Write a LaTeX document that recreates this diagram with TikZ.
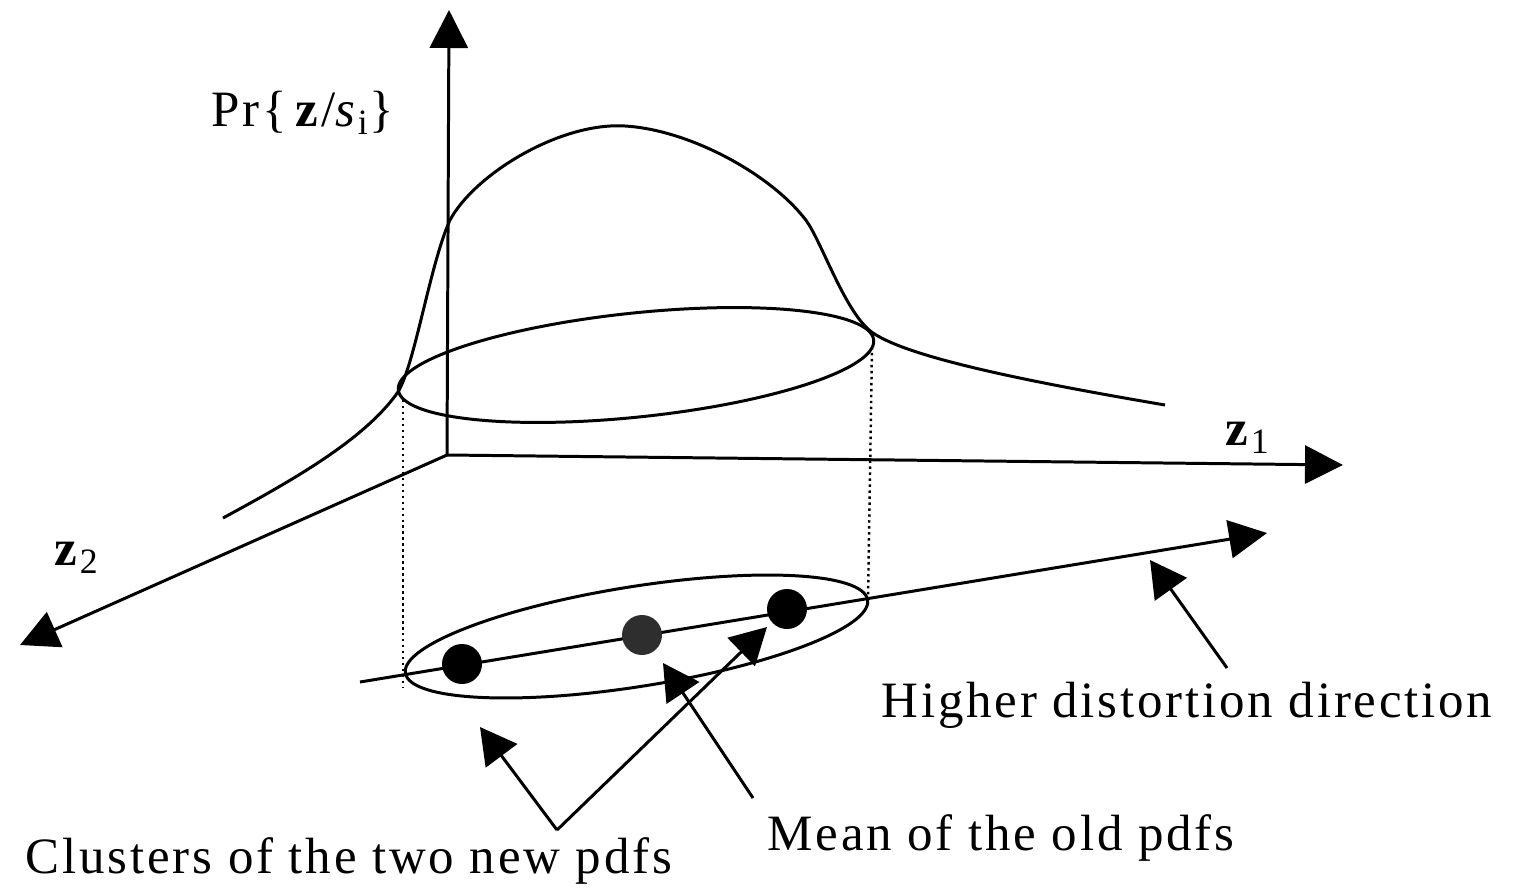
\documentclass[tikz,border=0pt]{standalone}
\usepackage{fontspec}
\setmainfont{Liberation Serif}[LetterSpace=5.5]
\usetikzlibrary{arrows.meta,calc}

\begin{document}
\begin{tikzpicture}[x=1cm,y=1cm,font=\fontsize{14.5}{17}\selectfont,
  axis/.style={-{Triangle[length=3.8mm,width=3.8mm]},line width=0.85pt},
  pointer/.style={-{Triangle[length=3.6mm,width=3.9mm]},line width=0.85pt},
  curve/.style={line width=0.85pt,line join=round},
  proj/.style={densely dotted,line width=0.7pt},
  blob/.style={circle,fill=black,minimum size=4mm,inner sep=0pt},
  label/.style={inner sep=0pt}]
\useasboundingbox (0,0) rectangle (15.13,8.94);

% Axes of the feature space.
\coordinate (orig) at (4.47,4.39);
\coordinate (ptop) at (4.49,8.84);
\coordinate (zone) at (13.43,4.29);
\coordinate (ztwo) at (0.20,2.49);
\draw[axis] (orig)--(ptop);
\draw[axis] (orig)--(zone);
\draw[axis] (orig)--(ztwo);
\node[label] (prlab) at (3.03,7.81) {Pr\{\,\textbf{z}/\textit{s}\textsubscript{i}\}};
\node[label] (zonelab) at (12.48,4.56) {\textbf{z}\textsubscript{1}};
\node[label] (ztwolab) at (0.77,3.36) {\textbf{z}\textsubscript{2}};

% Density surface of the old pdf and its level set.
\draw[curve] (2.23,3.76) .. controls (2.95,4.15) and (3.65,4.55) .. (3.98,5.02)
  .. controls (4.15,5.30) and (4.30,6.30) .. (4.50,6.74)
  .. controls (4.75,7.20) and (5.60,7.72) .. (6.25,7.68)
  .. controls (6.90,7.64) and (7.70,7.20) .. (8.05,6.75)
  .. controls (8.21,6.55) and (8.45,5.80) .. (8.73,5.61)
  .. controls (9.10,5.36) and (10.30,5.12) .. (11.65,4.89);
\draw[curve,rotate around={6:(6.36,5.29)}] (6.36,5.29) ellipse[x radius=2.39,y radius=0.52];

% Projection of the level set onto the plane.
\coordinate (dropla) at (4.03,4.94);
\coordinate (droplb) at (4.03,2.06);
\coordinate (dropra) at (8.72,5.47);
\coordinate (droprb) at (8.68,2.94);
\draw[proj] (dropla)--(droplb);
\draw[proj] (dropra)--(droprb);
\draw[curve,rotate around={9:(6.365,2.575)}] (6.365,2.575) ellipse[x radius=2.34,y radius=0.50];

% Direction of higher distortion with the split.
\coordinate (dstart) at (3.60,2.12);
\coordinate (dend) at (12.67,3.61);
\draw[axis] (dstart)--(dend);
\node[blob] (newa) at (4.62,2.30) {};
\node[blob,fill=black!82] (oldm) at (6.42,2.59) {};
\node[blob] (newb) at (7.87,2.85) {};

% Labels and their pointers.
\node[label] (hdlab) at (11.87,1.89) {Higher distortion direction};
\node[label] (mnlab) at (10.01,0.56) {Mean of the old pdfs};
\node[label] (cllab) at (3.49,0.33) {Clusters of the two new pdfs};
\coordinate (hdtail) at (12.27,2.26);
\coordinate (hdtip) at (11.50,3.34);
\coordinate (mntail) at (7.53,0.96);
\coordinate (mntip) at (6.63,2.31);
\coordinate (clfork) at (5.57,0.64);
\coordinate (cltipa) at (4.80,1.67);
\coordinate (cltipb) at (7.67,2.67);
\draw[pointer] (hdtail)--(hdtip);
\draw[pointer] (mntail)--(mntip);
\draw[pointer] (clfork)--(cltipa);
\draw[pointer] (clfork)--(cltipb);
\end{tikzpicture}
\end{document}
